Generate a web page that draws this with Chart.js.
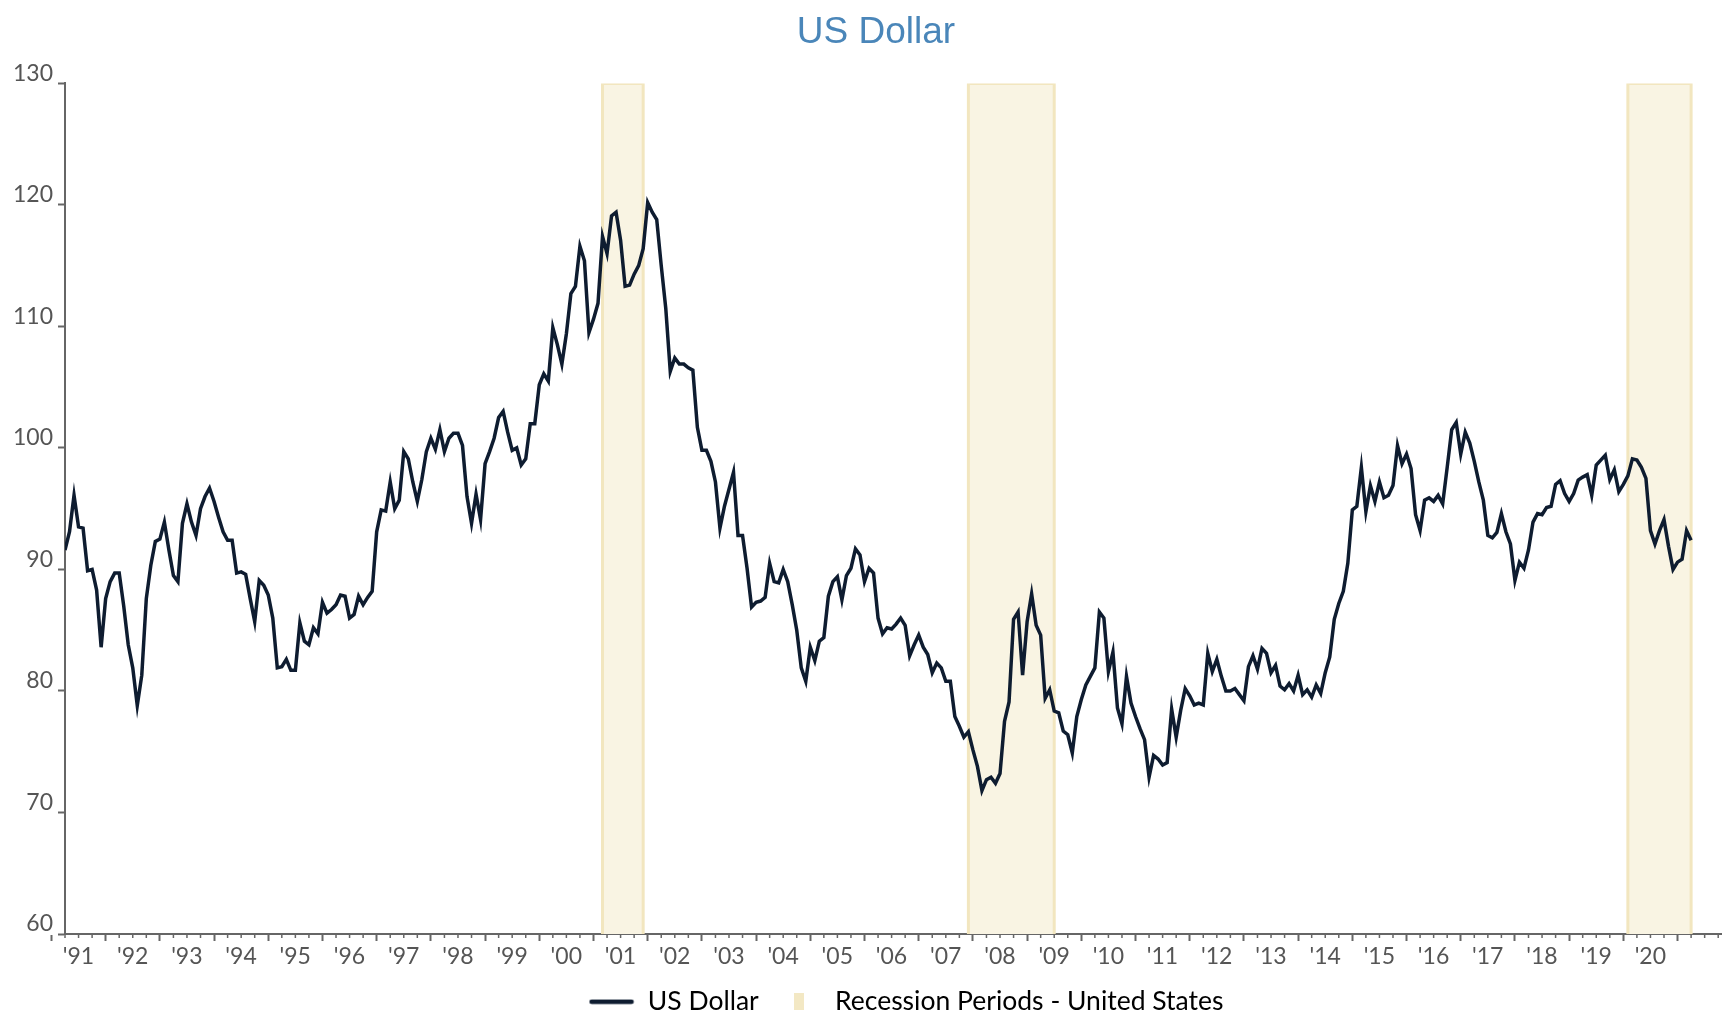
<!DOCTYPE html>
<html>
<head>
<meta charset="utf-8">
<title>US Dollar</title>
<script src="https://cdn.jsdelivr.net/npm/chart.js@4.4.1/dist/chart.umd.min.js"></script>
<style>
    html, body { margin: 0; padding: 0; background: #fff; }
</style>
</head>
<body>
<canvas id="dollarChart" width="1722" height="1013"></canvas>
<script>
// monthly values, first one is April 1991
const firstMonth = '1991-04';
const usDollar = [
    91.6, 93.1, 96.1, 93.5, 93.4, 89.9, 90.0, 88.3, 83.6, 87.6,
    89.0, 89.7, 89.7, 87.0, 83.8, 81.9, 78.8, 81.3, 87.6, 90.35,
    92.3, 92.5, 93.9, 91.6, 89.5, 89.0, 93.8, 95.4, 93.9, 92.8,
    95.0, 96.0, 96.7, 95.6, 94.3, 93.1, 92.4, 92.4, 89.7, 89.8,
    89.6, 87.6, 85.7, 89.1, 88.7, 87.9, 86.0, 81.9, 82.0, 82.6,
    81.7, 81.7, 85.6, 84.1, 83.8, 85.2, 84.7, 87.3, 86.4, 86.7,
    87.1, 87.9, 87.8, 86.0, 86.3, 87.8, 87.1, 87.7, 88.2, 93.1,
    94.9, 94.8, 97.2, 95.0, 95.7, 99.7, 99.1, 97.2, 95.6, 97.4,
    99.7, 100.8, 99.9, 101.5, 99.7, 100.8, 101.2, 101.2, 100.2, 96.0,
    93.8, 96.2, 94.1, 98.7, 99.7, 100.8, 102.5, 103.0, 101.3, 99.8,
    100.0, 98.6, 99.1, 102.0, 102.0, 105.2, 106.1, 105.5, 109.9, 108.5,
    106.9, 109.4, 112.7, 113.3, 116.6, 115.4, 109.5, 110.6, 111.9, 117.4,
    116.0, 119.1, 119.4, 117.1, 113.3, 113.4, 114.3, 115.0, 116.4, 120.2,
    119.4, 118.8, 115.0, 111.5, 106.3, 107.4, 106.9, 106.9, 106.6, 106.4,
    101.7, 99.8, 99.8, 98.9, 97.2, 93.4, 95.2, 96.6, 98.0, 92.8,
    92.8, 90.1, 86.9, 87.3, 87.4, 87.7, 90.5, 89.0, 88.9, 90.0,
    89.0, 87.1, 85.0, 81.9, 80.8, 83.6, 82.5, 84.1, 84.4, 87.8,
    89.0, 89.4, 87.5, 89.5, 90.1, 91.7, 91.2, 89.0, 90.1, 89.7,
    86.0, 84.7, 85.2, 85.1, 85.5, 86.0, 85.4, 82.9, 83.8, 84.6,
    83.6, 83.0, 81.5, 82.3, 81.9, 80.8, 80.8, 77.9, 77.1, 76.2,
    76.65, 75.15, 73.8, 71.8, 72.7, 72.9, 72.4, 73.2, 77.5, 79.1,
    85.9, 86.5, 81.3, 85.7, 88.0, 85.4, 84.6, 79.4, 80.1, 78.35,
    78.2, 76.7, 76.4, 74.9, 77.9, 79.3, 80.5, 81.2, 81.9, 86.5,
    86.0, 81.6, 83.2, 78.6, 77.3, 81.2, 79.0, 77.9, 76.9, 76.0,
    72.9, 74.7, 74.4, 73.9, 74.1, 78.5, 76.2, 78.4, 80.2, 79.6,
    78.85, 79.0, 78.85, 83.1, 81.6, 82.6, 81.2, 80.0, 80.0, 80.2,
    79.7, 79.2, 82.0, 82.9, 81.8, 83.5, 83.1, 81.5, 82.1, 80.4,
    80.1, 80.6, 80.0, 81.3, 79.7, 80.1, 79.5, 80.5, 79.8, 81.5,
    82.8, 85.9, 87.2, 88.2, 90.5, 94.9, 95.2, 98.4, 94.75, 96.9,
    95.6, 97.2, 95.9, 96.1, 96.9, 100.2, 98.7, 99.5, 98.3, 94.5,
    93.2, 95.7, 95.9, 95.6, 96.1, 95.4, 98.4, 101.5, 102.1, 99.5,
    101.3, 100.4, 98.9, 97.2, 95.7, 92.8, 92.6, 93.05, 94.6, 93.1,
    92.1, 89.1, 90.6, 90.1, 91.6, 93.9, 94.6, 94.5, 95.1, 95.2,
    97.0, 97.3, 96.25, 95.6, 96.25, 97.35, 97.6, 97.8, 96.1, 98.6,
    99.0, 99.4, 97.4, 98.2, 96.4, 97.0, 97.7, 99.1, 99.0, 98.4,
    97.5, 93.2, 92.1, 93.2, 94.1, 91.9, 90.0, 90.6, 90.85, 93.2,
    92.4
];

// recession periods, end month is the first month after the recession
const recessionStart = ['2001-03', '2007-12', '2020-02'];
const recessionEnd = ['2001-12', '2009-07', '2021-04'];

const yTicks = [60, 70, 80, 90, 100, 110, 120, 130];
const yearLabels = ["'91", "'92", "'93", "'94", "'95", "'96", "'97", "'98", "'99", "'00",
    "'01", "'02", "'03", "'04", "'05", "'06", "'07", "'08", "'09", "'10",
    "'11", "'12", "'13", "'14", "'15", "'16", "'17", "'18", "'19", "'20"];
const firstYear = 1991;
const xMax = 2021.82;

const tickFont = { family: "Lato, 'Noto Sans', sans-serif", size: 23 };
const axisColor = '#666';
const lineColor = '#0e1c30';
const bandColor = '#f3e8c4';

function toYear(s) {
    const [y, m] = s.split('-').map(Number);
    return y + (m - 1) / 12;
}

const x0 = toYear(firstMonth);
const dollarPoints = usDollar.map((v, i) => ({ x: x0 + i / 12, y: v }));

const yMin = yTicks[0];
const yMax = yTicks[yTicks.length - 1];
const recessionPoints = [];
recessionStart.forEach((s, i) => {
    const a = toYear(s);
    const b = toYear(recessionEnd[i]);
    recessionPoints.push({ x: a, y: yMin }, { x: a, y: yMax }, { x: b, y: yMax }, { x: b, y: yMin }, { x: b, y: null });
});

function lineIcon(color) {
    const c = document.createElement('canvas');
    c.width = 46;
    c.height = 6;
    const g = c.getContext('2d');
    g.strokeStyle = color;
    g.lineWidth = 4.5;
    g.lineCap = 'round';
    g.beginPath();
    g.moveTo(3, 3);
    g.lineTo(43, 3);
    g.stroke();
    return c;
}

function rectIcon(color) {
    const c = document.createElement('canvas');
    c.width = 10;
    c.height = 17;
    const g = c.getContext('2d');
    g.fillStyle = color;
    g.fillRect(0, 0, 10, 17);
    return c;
}

// quarter ticks between the year ticks
const minorTicks = {
    id: 'minorTicks',
    afterDraw(chart) {
        const xs = chart.scales.x;
        const ctx = chart.ctx;
        const base = chart.chartArea.bottom;
        ctx.save();
        ctx.strokeStyle = axisColor;
        ctx.lineWidth = 1.5;
        for (let q = Math.ceil(xs.min * 4); q <= xs.max * 4; q++) {
            if (q % 4 === 0) continue;
            const px = xs.getPixelForValue(q / 4);
            ctx.beginPath();
            ctx.moveTo(px, base);
            ctx.lineTo(px, base + 4);
            ctx.stroke();
        }
        ctx.restore();
    }
};

// title and legend sit a bit right of the canvas centre in the original
const shiftBlocks = {
    id: 'shiftBlocks',
    afterLayout(chart) {
        const t = chart.titleBlock;
        t.left += 15;
        t.right += 15;
        const l = chart.legend;
        l.left += 45;
        l.right += 45;
    }
};

const ctx = document.getElementById('dollarChart');
const dollarChart = new Chart(ctx, {
    type: 'line',
    data: {
        datasets: [{
            label: 'US Dollar',
            data: dollarPoints,
            borderColor: lineColor,
            borderWidth: 3.5,
            pointRadius: 0,
            tension: 0,
            order: 1
        }, {
            label: 'Recession Periods - United States',
            data: recessionPoints,
            borderColor: '#f2e6bf',
            backgroundColor: '#f9f4e3',
            borderWidth: 3,
            fill: 'start',
            pointRadius: 0,
            spanGaps: false,
            order: 2
        }]
    },
    options: {
        responsive: false,
        animation: false,
        layout: { padding: { left: 0, right: 0, top: 0, bottom: -12 } },
        plugins: {
            title: {
                display: true,
                text: 'US Dollar',
                color: '#4a86b9',
                font: { family: "'Liberation Sans', Arial, sans-serif", size: 37, weight: 'normal' },
                padding: { top: 11, bottom: 28 }
            },
            legend: {
                position: 'bottom',
                labels: {
                    usePointStyle: true,
                    pointStyleWidth: 46,
                    padding: 17,
                    color: '#444',
                    font: { family: "Lato, 'Noto Sans', sans-serif", size: 26.5 },
                    generateLabels: () => [{
                        text: 'US Dollar',
                        pointStyle: lineIcon(lineColor),
                        fillStyle: lineColor,
                        strokeStyle: lineColor,
                        lineWidth: 0,
                        hidden: false,
                        datasetIndex: 0
                    }, {
                        text: 'Recession Periods - United States',
                        pointStyle: rectIcon(bandColor),
                        fillStyle: bandColor,
                        strokeStyle: bandColor,
                        lineWidth: 0,
                        hidden: false,
                        datasetIndex: 1
                    }]
                }
            },
            tooltip: { enabled: false }
        },
        scales: {
            x: {
                type: 'linear',
                min: x0,
                max: xMax,
                z: 1,
                border: { display: true, color: axisColor, width: 2 },
                grid: { drawOnChartArea: false, tickLength: 7, tickWidth: 2, tickColor: axisColor },
                afterBuildTicks: (scale) => {
                    const ticks = yearLabels.map((l, i) => ({ value: firstYear + i }));
                    ticks.push({ value: firstYear + yearLabels.length });
                    scale.ticks = ticks;
                },
                ticks: {
                    autoSkip: false,
                    maxRotation: 0,
                    labelOffset: 27,
                    padding: 2,
                    color: '#555',
                    font: tickFont,
                    callback: (value, index) => yearLabels[index] || ''
                },
                afterFit: (scale) => { scale.height = 37.5; }
            },
            y: {
                min: yMin,
                max: yMax,
                z: 1,
                border: { display: true, color: axisColor, width: 2 },
                grid: { drawOnChartArea: false, tickLength: 7, tickWidth: 2, tickColor: axisColor },
                afterBuildTicks: (scale) => { scale.ticks = yTicks.map(v => ({ value: v })); },
                ticks: {
                    padding: 5,
                    labelOffset: -10,
                    color: '#555',
                    font: tickFont
                },
                afterFit: (scale) => { scale.width = 65; }
            }
        }
    },
    plugins: [minorTicks, shiftBlocks]
});
</script>
</body>
</html>
